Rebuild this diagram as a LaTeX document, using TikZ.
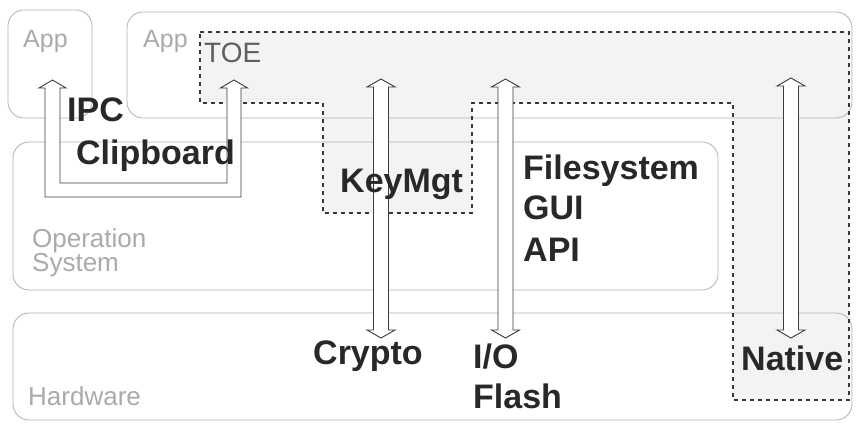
\documentclass[tikz,border=0pt]{standalone}
\usepackage{fontspec}
\setmainfont{Liberation Sans}
\usepackage{xcolor}
\definecolor{boxEdge}{RGB}{178,178,178}
\definecolor{softText}{RGB}{170,170,170}
\definecolor{toeText}{RGB}{95,95,95}
\definecolor{toeEdge}{RGB}{55,55,55}
\definecolor{toeFill}{RGB}{243,243,243}
\definecolor{ink}{RGB}{40,40,40}
\definecolor{arrowEdge}{RGB}{60,60,60}

\tikzset{
  layer/.style={draw=boxEdge,line width=0.8pt,rounded corners=16pt},
  toe/.style={draw=toeEdge,line width=1.6pt,dash pattern=on 4pt off 4pt},
  hollow/.style={draw=arrowEdge,fill=white,line width=0.9pt},
  biglabel/.style={inner sep=0pt,anchor=base west,text=ink,font=\bfseries\fontsize{34}{40}\selectfont},
  softlabel/.style={inner sep=0pt,anchor=base west,text=softText,font=\fontsize{26}{30}\selectfont}
}

\begin{document}
\begin{tikzpicture}[x=1pt,y=1pt]
  \useasboundingbox (0,0) rectangle (858,423);
  \fill[white] (0,0) rectangle (858,423);

  % TOE area (fill only)
  \fill[toeFill] (200,391) -- (849,391) -- (849,23) -- (733,23) -- (733,320)
    -- (472,320) -- (472,210) -- (323,210) -- (323,320) -- (200,320) -- cycle;

  % layers
  \draw[layer] (8,305) rectangle (92,413);
  \draw[layer] (127,305) rectangle (852,411);
  \draw[layer] (13,133) rectangle (718,281);
  \draw[layer] (13,3) rectangle (852,110);

  % TOE outline
  \draw[toe] (200,391) -- (849,391) -- (849,23) -- (733,23) -- (733,320)
    -- (472,320) -- (472,210) -- (323,210) -- (323,320) -- (200,320) -- cycle;

  % IPC / clipboard arrow
  \draw[hollow] (52.5,343) -- (66,335) -- (60,335) -- (60,240) -- (227,240)
    -- (227,335) -- (220.5,335) -- (234,343) -- (247.5,335) -- (241,335)
    -- (241,226) -- (45,226) -- (45,335) -- (39,335) -- cycle;

  % crypto arrow
  \draw[hollow] (381,344) -- (395,336) -- (388.5,336) -- (388.5,93) -- (395,93)
    -- (381,85) -- (367,93) -- (373.5,93) -- (373.5,336) -- (367,336) -- cycle;
  % io arrow
  \draw[hollow] (505.5,344) -- (519.5,336) -- (513,336) -- (513,93) -- (519.5,93)
    -- (505.5,85) -- (491.5,93) -- (498,93) -- (498,336) -- (491.5,336) -- cycle;
  % native arrow
  \draw[hollow] (791,345) -- (805,337) -- (798.5,337) -- (798.5,93) -- (805,93)
    -- (791,85) -- (777,93) -- (783.5,93) -- (783.5,337) -- (777,337) -- cycle;

  % layer names
  \node[softlabel,font=\fontsize{25}{30}\selectfont] (app1) at (23,375) {App};
  \node[softlabel,font=\fontsize{25}{30}\selectfont] (app2) at (143,375) {App};
  \node[softlabel,text=toeText,font=\fontsize{28}{32}\selectfont] (toe) at (204,360) {TOE};
  \node[softlabel] (osa) at (32,175) {Operation};
  \node[softlabel] (osb) at (32,151) {System};
  \node[softlabel] (hw) at (28,18) {Hardware};

  % functions
  \node[biglabel] (ipc) at (67,301) {IPC};
  \node[biglabel] (clip) at (76,258) {Clipboard};
  \node[biglabel] (keymgt) at (340,230) {KeyMgt};
  \node[biglabel] (fs) at (523,243) {Filesystem};
  \node[biglabel] (gui) at (523,203) {GUI};
  \node[biglabel] (api) at (523,161) {API};
  \node[biglabel] (crypto) at (313,59) {Crypto};
  \node[biglabel] (io) at (473,55) {I/O};
  \node[biglabel] (flash) at (473,15) {Flash};
  \node[biglabel] (native) at (741,53) {Native};
\end{tikzpicture}
\end{document}
